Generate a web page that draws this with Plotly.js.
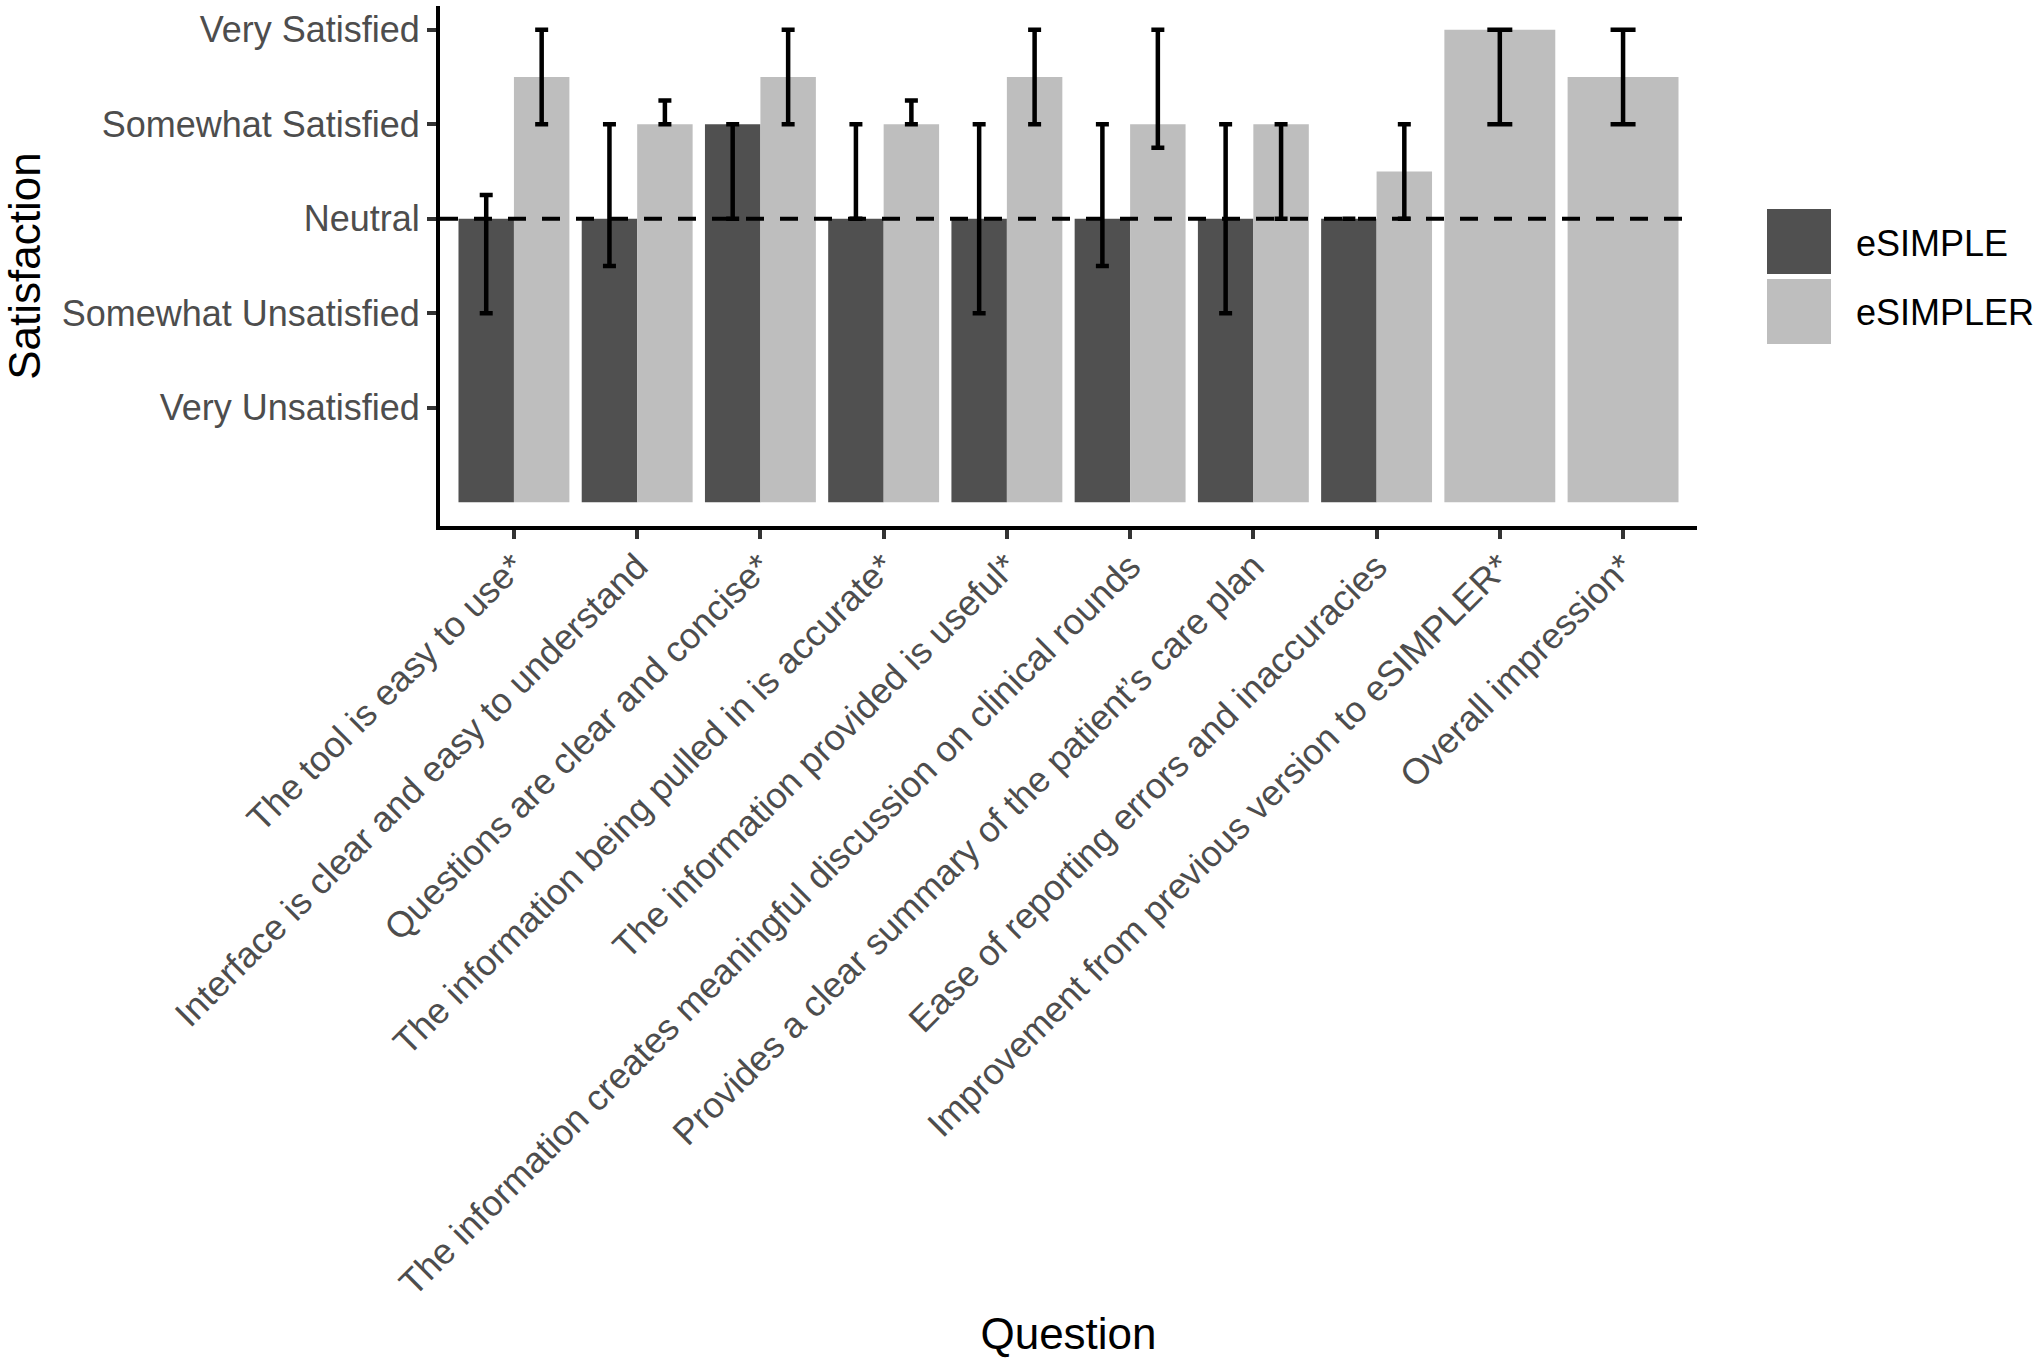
<!DOCTYPE html>
<html>
<head>
<meta charset="utf-8">
<script src="https://cdn.plot.ly/plotly-3.0.1.min.js"></script>
<style>
html,body{margin:0;padding:0;background:#ffffff;}
#chart{width:2040px;height:1358px;}
</style>
</head>
<body>
<div id="chart"></div>
<script>
// ---------- data ----------
const questions = [
  "The tool is easy to use*",
  "Interface is clear and easy to understand",
  "Questions are clear and concise*",
  "The information being pulled in is accurate*",
  "The information provided is useful*",
  "The information creates meaningful discussion on clinical rounds",
  "Provides a clear summary of the patient\u2019s care plan",
  "Ease of reporting errors and inaccuracies",
  "Improvement from previous version to eSIMPLER*",
  "Overall impression*"
];
const satisfactionLevels = [1, 2, 3, 4, 5];
const satisfactionLabels = ["Very Unsatisfied", "Somewhat Unsatisfied", "Neutral", "Somewhat Satisfied", "Very Satisfied"];
const seriesNames = ["eSIMPLE", "eSIMPLER"];

const esimple     = [3,    3,   4, 3, 3, 3,   3, 3, null, null];
const esimpleLow  = [2,    2.5, 3, 3, 2, 2.5, 2, 3, null, null];
const esimpleHigh = [3.25, 4,   4, 4, 4, 4,   4, 3, null, null];

const esimpler     = [4.5, 4,    4.5, 4,    4.5, 4,    4, 3.5, 5, 4.5];
const esimplerLow  = [4,   4,    4,   4,    4,   3.75, 3, 3,   4, 4];
const esimplerHigh = [5,   4.25, 5,   4.25, 5,   5,    4, 4,   5, 5];

const neutralLevel = 3;

// ---------- styles ----------
const FONT = "Liberation Sans, Arial, Helvetica, sans-serif";
const DARK = "#505050";
const LIGHT = "#bebebe";

const W = 2040, H = 1358;
const M = {l: 440, r: 343, t: 6, b: 832};
const plotW = W - M.l - M.r, plotH = H - M.t - M.b;
const px2x = p => (p - M.l) / plotW;
const px2y = p => (H - M.b - p) / plotH;

const allIdx = questions.map((q, i) => i);
const paired = allIdx.filter(i => esimple[i] !== null);
const solo = allIdx.filter(i => esimple[i] === null);

function barTrace(name, color, idx, vals, lo, hi, offset, width, cap) {
  return {
    type: "bar",
    name: name,
    x: idx.map(i => questions[i]),
    y: idx.map(i => vals[i]),
    offset: offset,
    width: width,
    marker: {color: color, line: {width: 0}},
    error_y: {
      type: "data",
      symmetric: false,
      array: idx.map(i => hi[i] - vals[i]),
      arrayminus: idx.map(i => vals[i] - lo[i]),
      color: "#000000",
      thickness: 4.5,
      width: cap
    },
    showlegend: false
  };
}

const traces = [
  barTrace(seriesNames[0], DARK, paired, esimple, esimpleLow, esimpleHigh, -0.45, 0.45, 6.5),
  barTrace(seriesNames[1], LIGHT, paired, esimpler, esimplerLow, esimplerHigh, 0, 0.45, 6.5),
  barTrace(seriesNames[1], LIGHT, solo, esimpler, esimplerLow, esimplerHigh, -0.45, 0.9, 12.5)
];

// legend drawn as keys + text
const legendKeys = [
  {name: seriesNames[0], color: DARK, top: 209, bottom: 274, textY: 243},
  {name: seriesNames[1], color: LIGHT, top: 279, bottom: 344, textY: 312}
];
const shapes = [
  {
    type: "line", xref: "paper", yref: "y",
    x0: 0, x1: 1, y0: neutralLevel, y1: neutralLevel,
    line: {color: "#000000", width: 4, dash: "18px,16px"},
    layer: "above"
  }
];
const annotations = [];
legendKeys.forEach(k => {
  shapes.push({
    type: "rect", xref: "paper", yref: "paper",
    x0: px2x(1767), x1: px2x(1831), y0: px2y(k.bottom), y1: px2y(k.top),
    fillcolor: k.color, line: {width: 0}, layer: "above"
  });
  annotations.push({
    xref: "paper", yref: "paper", x: px2x(1854), y: px2y(k.textY),
    xanchor: "left", yanchor: "middle", showarrow: false,
    text: k.name, font: {family: FONT, size: 36, color: "#000000"}
  });
});

const layout = {
  width: W, height: H,
  margin: M,
  paper_bgcolor: "#ffffff",
  plot_bgcolor: "#ffffff",
  barmode: "overlay",
  showlegend: false,
  font: {family: FONT},
  xaxis: {
    type: "category",
    categoryorder: "array",
    categoryarray: questions,
    range: [-0.6, questions.length - 0.4],
    tickangle: -45,
    showline: true, linecolor: "#000000", linewidth: 4,
    ticks: "outside", ticklen: 9, tickwidth: 4, tickcolor: "#333333",
    showgrid: false, zeroline: false,
    tickfont: {family: FONT, size: 36, color: "#4d4d4d"},
    ticklabelstandoff: -8,
    automargin: false,
    title: {text: "Question", font: {family: FONT, size: 44, color: "#000000"}, standoff: 34}
  },
  yaxis: {
    range: [-0.25, 5.25],
    tickvals: satisfactionLevels,
    ticktext: satisfactionLabels,
    showline: true, linecolor: "#000000", linewidth: 4,
    ticks: "outside", ticklen: 9, tickwidth: 4, tickcolor: "#333333",
    showgrid: false, zeroline: false,
    tickfont: {family: FONT, size: 36, color: "#4d4d4d"},
    ticklabelstandoff: 0,
    automargin: false,
    title: {text: "Satisfaction", font: {family: FONT, size: 44, color: "#000000"}, standoff: 33}
  },
  shapes: shapes,
  annotations: annotations
};

Plotly.newPlot("chart", traces, layout, {displayModeBar: false, responsive: false});
</script>
</body>
</html>
